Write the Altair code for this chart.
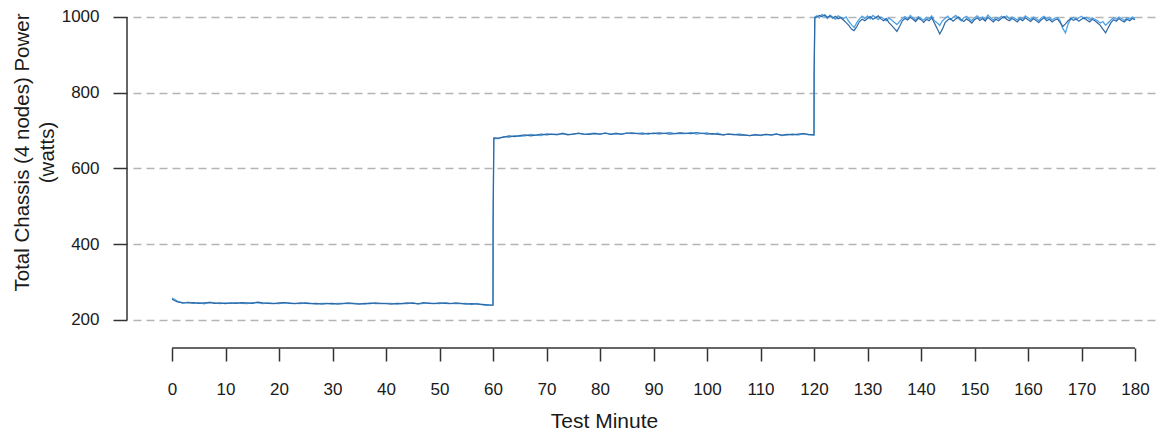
import altair as alt
import pandas as pd

FONT = "Liberation Sans, Arial, sans-serif"

# ---- data (two power traces) ----
seg1_minutes = list(range(0, 61))
step1_minutes = [60.02, 60.15]
seg2_minutes = list(range(61, 121))
step2_minutes = [120.02, 120.15]
seg3_minutes = [120.5 + 0.5 * i for i in range(120)]   # half-minute samples 120.5 .. 180

dark_seg1 = [
    255, 248, 246, 245, 246, 244, 245, 246, 244, 245,
    243, 245, 244, 246, 245, 244, 247, 245, 244, 243,
    245, 246, 244, 243, 245, 244, 243, 244, 242, 243,
    244, 242, 243, 245, 243, 242, 244, 243, 245, 244,
    243, 242, 244, 243, 245, 244, 243, 246, 244, 243,
    245, 244, 243, 245, 244, 242, 243, 242, 241, 240,
    239,
]
light_seg1 = [
    258, 250, 244, 247, 244, 246, 243, 247, 245, 243,
    245, 244, 246, 244, 243, 246, 245, 243, 245, 244,
    243, 245, 245, 244, 243, 246, 244, 242, 244, 244,
    242, 244, 244, 243, 244, 243, 242, 245, 243, 243,
    244, 244, 242, 244, 243, 246, 242, 244, 245, 244,
    243, 246, 244, 243, 243, 244, 241, 244, 240, 239,
    240,
]
dark_step1 = [458, 681]
light_step1 = [456, 679]

dark_seg2 = [
    680, 683, 686, 684, 687, 689, 686, 688, 691, 689,
    691, 690, 692, 689, 691, 693, 691, 690, 692, 691,
    693, 690, 692, 691, 693, 694, 692, 691, 693, 692,
    694, 693, 691, 692, 694, 693, 692, 695, 693, 691,
    692, 690, 689, 691, 690, 688, 689, 687, 689, 688,
    690, 689, 691, 688, 690, 689, 691, 692, 690, 689,
]
light_seg2 = [
    679, 684, 682, 687, 685, 686, 690, 688, 687, 692,
    690, 689, 693, 690, 691, 693, 690, 692, 693, 691,
    694, 691, 693, 690, 694, 692, 693, 694, 690, 694,
    691, 693, 695, 692, 693, 692, 695, 691, 693, 694,
    690, 693, 689, 691, 689, 691, 688, 687, 690, 687,
    690, 688, 691, 687, 689, 691, 688, 692, 689, 688,
]
dark_step2 = [843, 998]
light_step2 = [841, 1000]

dark_seg3 = [
    1000, 1004, 1001, 1006, 999, 1003, 997, 1002, 995, 998,
    992, 985, 978, 968, 964, 975, 988, 994, 990, 996,
    1001, 994, 998, 1003, 995, 990, 996, 985, 978, 970,
    962, 975, 990, 996, 992, 999, 994, 988, 997, 993,
    986, 994, 990, 998, 984, 970, 955, 968, 985, 992,
    996, 989, 995, 1000, 993, 988, 995, 990, 984, 993,
    998, 991, 996, 989, 999, 993, 987, 994, 990, 996,
    1001, 994, 990, 996, 992, 987, 995, 990, 998, 993,
    988, 996, 991, 985, 993, 998, 990, 994, 987, 992,
    995, 985, 975, 982, 990, 996, 991, 995, 989, 994,
    998, 992, 987, 994, 990, 984, 978, 968, 958, 972,
    985, 993, 989, 996, 991, 987, 994, 990, 996, 993,
]
light_seg3 = [
    1003, 998, 1007, 1002, 996, 1005, 1000, 994, 1003, 999,
    996, 1000, 988, 980, 972, 985, 995, 1002, 996, 1003,
    995, 1004, 999, 993, 1000, 996, 990, 997, 992, 986,
    980, 988, 996, 1001, 995, 1004, 998, 992, 1001, 996,
    992, 999, 995, 1003, 990, 985, 978, 990, 996, 1002,
    993, 999, 1004, 996, 990, 998, 1002, 995, 990, 998,
    1003, 996, 1000, 993, 1005, 998, 992, 999, 995, 1002,
    997, 1003, 995, 1000, 997, 992, 999, 995, 1003, 998,
    993, 1000, 996, 990, 998, 1002, 995, 999, 992, 997,
    999, 990, 970, 958, 982, 995, 999, 993, 998, 1002,
    995, 999, 993, 998, 994, 990, 984, 988, 978, 985,
    992, 998, 994, 1000, 996, 991, 998, 995, 1000, 997,
]

x_ticks = list(range(0, 181, 10))
y_ticks = [200, 400, 600, 800, 1000]

minutes = seg1_minutes + step1_minutes + seg2_minutes + step2_minutes + seg3_minutes
dark = dark_seg1 + dark_step1 + dark_seg2 + dark_step2 + dark_seg3
light = light_seg1 + light_step1 + light_seg2 + light_step2 + light_seg3

df = pd.concat([
    pd.DataFrame({"minute": minutes, "watts": light, "series": "light"}),
    pd.DataFrame({"minute": minutes, "watts": dark, "series": "dark"}),
])

W, H = 1027, 336

x_enc = alt.X(
    "minute:Q",
    scale=alt.Scale(domain=[-7.29, 184.67], nice=False, zero=False),
    axis=alt.Axis(
        values=x_ticks, domain=False, grid=False, format="d",
        tickSize=13, tickWidth=1.5, tickColor="#333333",
        labelFontSize=17, labelFont=FONT, labelColor="#1a1a1a",
        labelPadding=20, labelFlush=False, labelOverlap=False,
        title="Test Minute", titleFont=FONT, titleFontSize=21,
        titleFontWeight="normal", titleColor="#1a1a1a",
        titleX=471, titleY=79, titleBaseline="alphabetic", titleAlign="center",
    ),
)
y_enc = alt.Y(
    "watts:Q",
    scale=alt.Scale(domain=[126.07, 1013.2], nice=False, zero=False),
    axis=alt.Axis(
        values=y_ticks, domain=False, offset=6, format="d",
        tickSize=14, tickWidth=1.5, tickColor="#333333",
        labelFontSize=17, labelFont=FONT, labelColor="#1a1a1a",
        labelPadding=14, labelFlush=False, labelOverlap=False,
        grid=True, gridDash=[8, 5], gridColor="#b4b4b4", gridWidth=1.5,
        title=["Total Chassis (4 nodes) Power", "(watts)"],
        titleFont=FONT, titleFontSize=20.5, titleFontWeight="normal",
        titleColor="#1a1a1a", titleAngle=270, titleLineHeight=25,
        titleX=-99, titleY=140, titleAlign="center", titleBaseline="alphabetic",
    ),
)

base = alt.Chart(df)
light_line = base.transform_filter(alt.datum.series == "light").mark_line(
    color="#4fa3e8", strokeWidth=1.3
).encode(x=x_enc, y=y_enc)
dark_line = base.transform_filter(alt.datum.series == "dark").mark_line(
    color="#2f68a3", strokeWidth=1.2
).encode(x=x_enc, y=y_enc)

one = pd.DataFrame({"a": [0]})
y_axis_line = alt.Chart(one).mark_rule(color="#333333", strokeWidth=1.5).encode(
    x=alt.value(-6),
    y=alt.datum(200),
    y2=alt.datum(1000),
)
x_axis_line = alt.Chart(one).mark_rule(color="#333333", strokeWidth=1.5).encode(
    x=alt.datum(0),
    x2=alt.datum(180),
    y=alt.value(H),
)

chart = alt.layer(light_line, dark_line, y_axis_line, x_axis_line).properties(
    width=W, height=H,
    autosize=alt.AutoSizeParams(type="none"),
    padding={"left": 125, "top": 4, "right": 0, "bottom": 84},
).configure_view(stroke=None)

chart.save("out.html", embed_options={"renderer": "svg", "actions": False})
